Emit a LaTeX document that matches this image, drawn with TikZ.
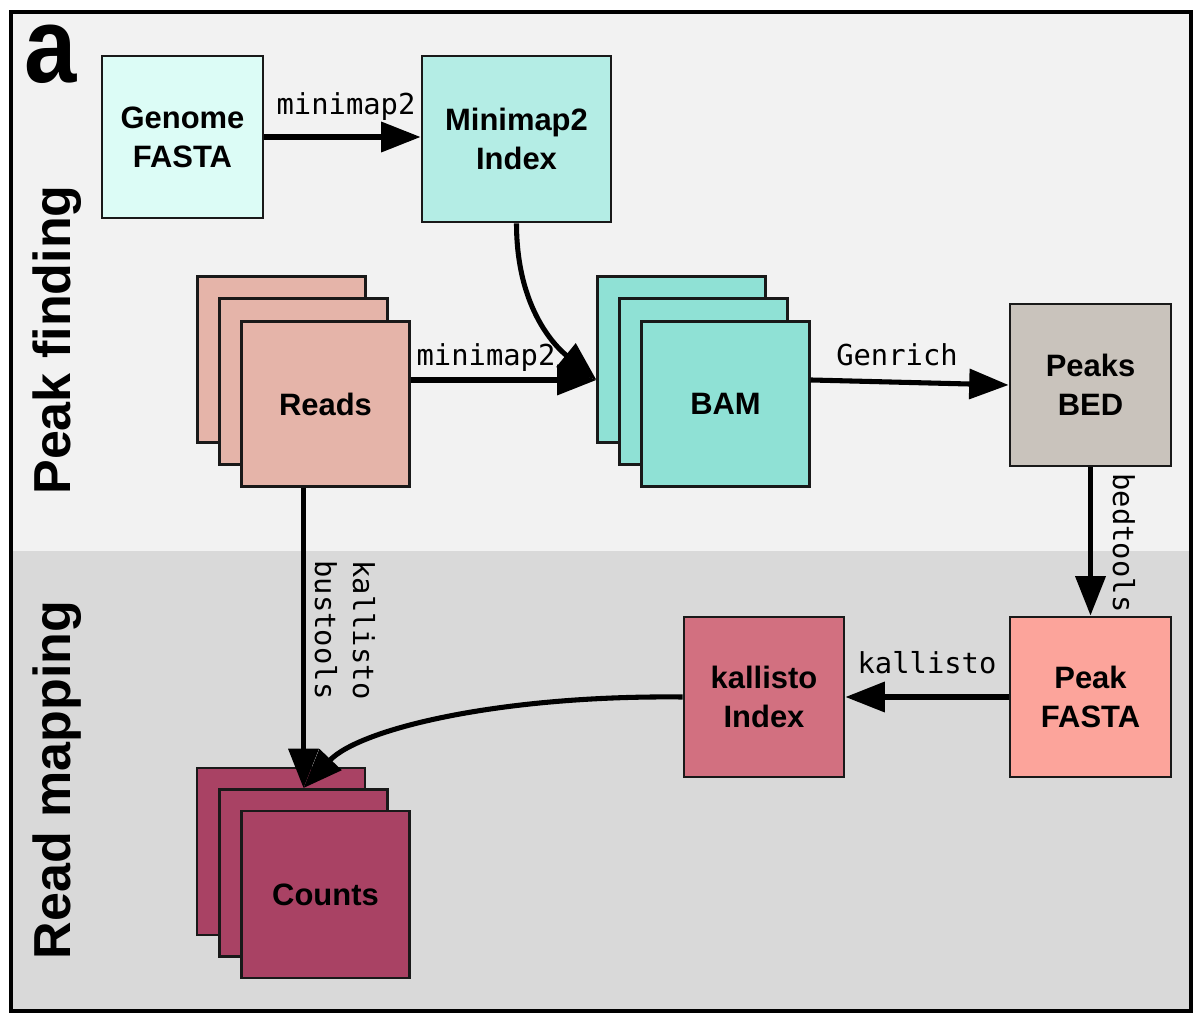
\documentclass[tikz,border=0pt]{standalone}
\usepackage{fontspec}
\setmainfont{Liberation Sans}
\newfontfamily\monofont{DejaVu Sans Mono}
\usetikzlibrary{arrows.meta,calc}
\definecolor{cGen}{HTML}{DCFCF6}
\definecolor{cIdx}{HTML}{B4EDE5}
\definecolor{cReads}{HTML}{E5B4A9}
\definecolor{cBam}{HTML}{8FE1D5}
\definecolor{cBed}{HTML}{C9C3BC}
\definecolor{cPf}{HTML}{FCA49B}
\definecolor{cKi}{HTML}{D27080}
\definecolor{cCnt}{HTML}{A94264}
\definecolor{bgTop}{HTML}{F2F2F2}
\definecolor{bgBot}{HTML}{D9D9D9}
\begin{document}
\begin{tikzpicture}[x=0.025cm,y=-0.025cm,
  box/.style={draw=black!90, line width=2pt, inner sep=0pt, align=center,
    font=\fontsize{22}{27.7}\selectfont\bfseries},
  stackbox/.style={box, minimum width=4.18cm, minimum height=4.13cm},
  cntbox/.style={box, minimum width=4.2cm, minimum height=4.175cm},
  arr/.style={line width=3.6pt, -{Triangle[length=28pt,width=21pt]}},
  lbl/.style={font=\fontsize{20.5}{27}\selectfont\monofont, inner sep=0pt, anchor=base},
  side/.style={font=\fontsize{37}{40}\selectfont\bfseries, inner sep=0pt, anchor=base, rotate=90}
]
\useasboundingbox[fill=white] (0,0) rectangle (1200,1023);
\fill[bgTop] (11,12) rectangle (1191,551);
\fill[bgBot] (11,551) rectangle (1191,1011);
\draw[line width=3.5pt] (11,12) rectangle (1191,1011);

\node[font=\fontsize{76}{80}\selectfont\bfseries, anchor=base, inner sep=0pt, xscale=0.88] (pa) at (51,83) {a};
\node[side] (pf) at (70,340) {Peak finding};
\node[side] (rm) at (70,780) {Read mapping};

% boxes
\node[box, fill=cGen, minimum width=4.025cm, minimum height=4.05cm] (genome) at (182.5,137) {Genome\\FASTA};
\node[box, fill=cIdx, minimum width=4.725cm, minimum height=4.15cm] (minidx) at (516.5,139) {Minimap2\\Index};

\node[stackbox, fill=cReads] (reads3) at (281.5,359.5) {};
\node[stackbox, fill=cReads] (reads2) at (303.5,381.5) {};
\node[stackbox, fill=cReads] (reads1) at (325.5,404) {Reads};

\node[stackbox, fill=cBam] (bam3) at (681.5,359.5) {};
\node[stackbox, fill=cBam] (bam2) at (703.5,381.5) {};
\node[stackbox, fill=cBam] (bam1) at (725.5,404) {BAM};

\node[box, fill=cBed, minimum width=4.025cm, minimum height=4.05cm] (peaks) at (1090.5,385) {Peaks\\BED};
\node[box, fill=cPf, minimum width=4.025cm, minimum height=4.0cm] (pfasta) at (1090.5,697) {Peak\\FASTA};
\node[box, fill=cKi, minimum width=4.0cm, minimum height=4.0cm] (kidx) at (764,697) {kallisto\\Index};

\node[cntbox, fill=cCnt] (counts3) at (281,851.5) {};
\node[cntbox, fill=cCnt] (counts2) at (303.5,873) {};
\node[cntbox, fill=cCnt] (counts1) at (325.5,894.5) {Counts};

% helper coordinates
\coordinate (ra) at ($(reads1.north east)+(0,60)$);
\coordinate (bamin) at (ra -| bam3.west);

% connectors
\draw[arr] (genome.east) -- (genome.east -| minidx.west);
\draw[arr] (minidx.south) .. controls +(0,88) and +(-38,-31) .. (bamin);
\draw[arr] (ra) -- (bamin);
\draw[arr] (ra -| bam1.east) -- (peaks.west);
\draw[arr] (peaks.south) -- (pfasta.north);
\draw[arr] (pfasta.west) -- (kidx.east);
\draw[arr] (kidx.west) .. controls +(-184,-2) and +(56,-59) .. (counts2.north);
\draw[arr] (counts2.north |- reads1.south) -- (counts2.north);

% labels
\node[lbl] (lmm1) at (346,115) {minimap2};
\node[lbl] (lmm2) at (486,365) {minimap2};
\node[lbl] (lgen) at (897,365) {Genrich};
\node[lbl] (lkal) at (927,673) {kallisto};
\node[lbl, rotate=-90] (lbed) at (1113,543) {bedtools};
\node[font=\fontsize{20.5}{27}\selectfont\monofont, inner sep=0pt, rotate=-90, align=left] (lkb) at (345,630) {kallisto\\bustools};
\end{tikzpicture}
\end{document}
